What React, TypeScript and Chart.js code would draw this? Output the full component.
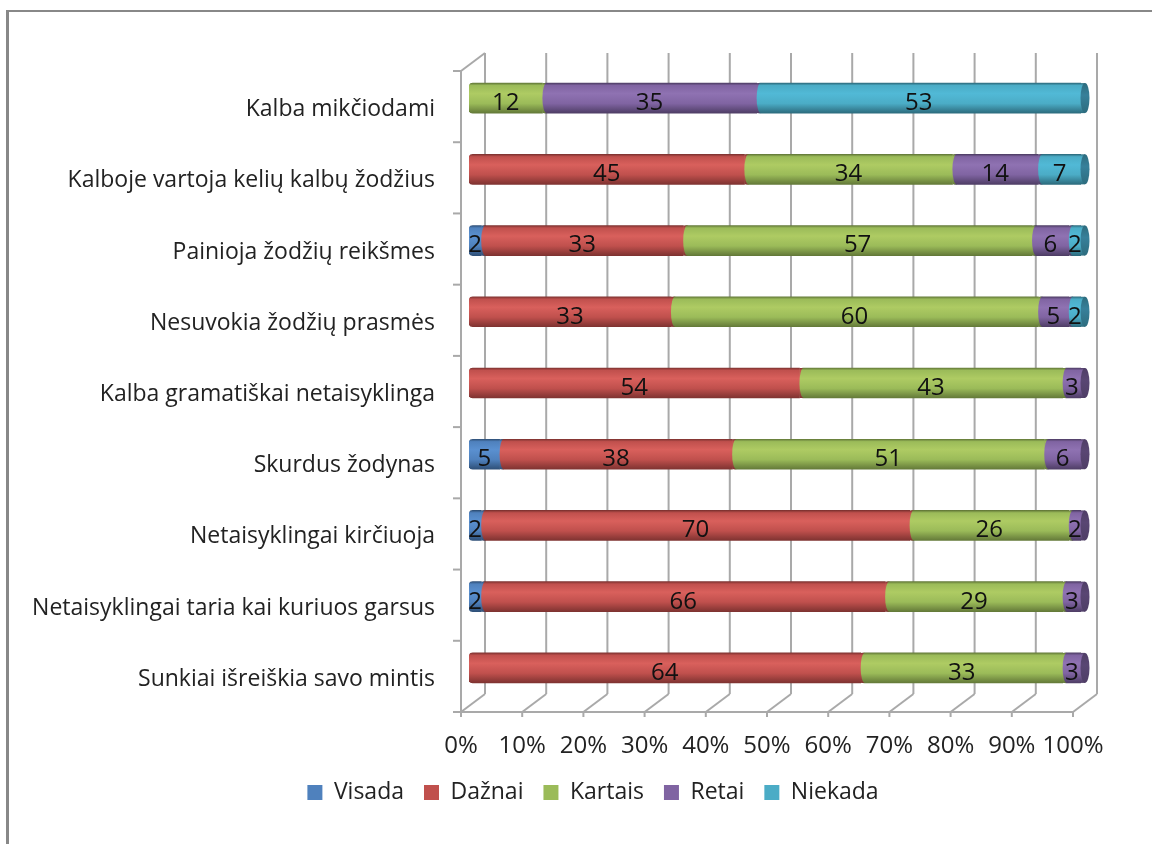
import React, { useEffect, useRef } from "react";
import { Chart, registerables } from "chart.js";

Chart.register(...registerables);

const categories = [
  "Kalba mikčiodami",
  "Kalboje vartoja kelių kalbų žodžius",
  "Painioja žodžių reikšmes",
  "Nesuvokia žodžių prasmės",
  "Kalba gramatiškai netaisyklinga",
  "Skurdus žodynas",
  "Netaisyklingai kirčiuoja",
  "Netaisyklingai taria kai kuriuos garsus",
  "Sunkiai išreiškia savo mintis",
];
const visada = [null, null, 2, null, null, 5, 2, 2, null];
const daznai = [null, 45, 33, 33, 54, 38, 70, 66, 64];
const kartais = [12, 34, 57, 60, 43, 51, 26, 29, 33];
const retai = [35, 14, 6, 5, 3, 6, 2, 3, 3];
const niekada = [53, 7, 2, 2, null, null, null, null, null];

const seriesNames = ["Visada", "Dažnai", "Kartais", "Retai", "Niekada"];
const seriesValues = [visada, daznai, kartais, retai, niekada];
const baseColors = ["#4f81bd", "#c0504d", "#9bbb59", "#8064a2", "#4bacc6"];
const lightColors = ["#5a90d0", "#d9605c", "#aecb63", "#8f72b2", "#51b9d6"];
const darkColors = ["#2f5078", "#7f3331", "#647a39", "#4f3e66", "#2d6c7e"];
const capColors = ["#3a5f8c", "#8f3c3a", "#73893f", "#594673", "#37809a"];

const FONT = "'Open Sans'";
const LABEL_SIZE = 23;
const VALUE_SIZE = 24;
const BAR_H = 30;
const SHIFT_X = 8;
const SHIFT_Y = -8.5;
const DEPTH_X = 24;
const DEPTH_Y = 18;
const END_R = 4;
const GRID = "#a9a9a9";

function bodyGradient(c2d: any, c: number, i: number) {
  const g = c2d.createLinearGradient(0, c - BAR_H / 2, 0, c + BAR_H / 2);
  g.addColorStop(0, darkColors[i]);
  g.addColorStop(0.08, baseColors[i]);
  g.addColorStop(0.35, lightColors[i]);
  g.addColorStop(0.68, baseColors[i]);
  g.addColorStop(1, darkColors[i]);
  return g;
}

function barFill(ctx: any, i: number) {
  if (ctx.dataIndex === undefined) return baseColors[i];
  const c = ctx.chart.scales.y?.getPixelForValue(ctx.dataIndex);
  if (!Number.isFinite(c)) return baseColors[i];
  return bodyGradient(ctx.chart.ctx, c, i);
}

const wallPlugin = {
  id: "wall",
  beforeDatasetsDraw(chart: any) {
    const { ctx, chartArea: a, scales } = chart;
    ctx.save();
    ctx.strokeStyle = GRID;
    ctx.lineWidth = 2;
    const line = (x1: number, y1: number, x2: number, y2: number) => {
      ctx.beginPath();
      ctx.moveTo(x1, y1);
      ctx.lineTo(x2, y2);
      ctx.stroke();
    };
    (scales.x.ticks as any[]).forEach((t) => {
      const x = scales.x.getPixelForValue(t.value);
      line(x + DEPTH_X, a.top - DEPTH_Y, x + DEPTH_X, a.bottom - DEPTH_Y);
      line(x + DEPTH_X, a.bottom - DEPTH_Y, x, a.bottom);
      line(x, a.bottom, x, a.bottom + 5);
    });
    line(a.left, a.bottom, a.right, a.bottom);
    line(a.left, a.top, a.left, a.bottom);
    line(a.left, a.top, a.left + DEPTH_X, a.top - DEPTH_Y);
    const step = (a.bottom - a.top) / categories.length;
    for (let i = 0; i <= categories.length; i++) {
      line(a.left - 8, a.top + i * step, a.left, a.top + i * step);
    }
    ctx.restore();
    ctx.save();
    ctx.translate(SHIFT_X, SHIFT_Y);
  },
  afterDatasetsDraw(chart: any) {
    const { ctx } = chart;
    categories.forEach((_, row) => {
      let prev = -1;
      seriesValues.forEach((s, i) => {
        if (s[row] == null) return;
        const el = chart.getDatasetMeta(i).data[row];
        const top = el.y - BAR_H / 2;
        if (prev >= 0) {
          ctx.fillStyle = bodyGradient(ctx, el.y, prev);
          ctx.fillRect(el.base, top, END_R, BAR_H);
          ctx.fillStyle = bodyGradient(ctx, el.y, i);
          ctx.beginPath();
          ctx.ellipse(el.base + END_R, el.y, END_R, BAR_H / 2, 0, 0, Math.PI * 2);
          ctx.fill();
        }
        prev = i;
      });
      if (prev >= 0) {
        const el = chart.getDatasetMeta(prev).data[row];
        const top = el.y - BAR_H / 2;
        ctx.fillStyle = bodyGradient(ctx, el.y, prev);
        ctx.fillRect(el.x - 0.5, top, END_R + 0.5, BAR_H);
        const g = ctx.createLinearGradient(0, top, 0, top + BAR_H);
        g.addColorStop(0, darkColors[prev]);
        g.addColorStop(0.4, capColors[prev]);
        g.addColorStop(1, darkColors[prev]);
        ctx.fillStyle = g;
        ctx.beginPath();
        ctx.ellipse(el.x + END_R, el.y, END_R + 0.5, BAR_H / 2, 0, 0, Math.PI * 2);
        ctx.fill();
      }
    });
    seriesValues.forEach((s, i) => {
      const meta = chart.getDatasetMeta(i);
      s.forEach((v, row) => {
        if (v == null) return;
        const el = meta.data[row];
        ctx.fillStyle = "#111111";
        ctx.font = `${VALUE_SIZE}px ${FONT}`;
        ctx.textAlign = "center";
        ctx.textBaseline = "middle";
        ctx.fillText(String(v), (el.x + el.base) / 2, el.y + 5);
      });
    });
    ctx.restore();
  },
  afterLayout(chart: any) {
    const l = chart.legend;
    const h = l.bottom - l.top;
    l.top = 761;
    l.bottom = l.top + h;
  },
};

export default function App() {
  const ref = useRef<HTMLCanvasElement>(null);
  useEffect(() => {
    document.body.style.margin = "0";
    const chart = new Chart(ref.current!, {
      type: "bar",
      data: {
        labels: categories,
        datasets: seriesNames.map((name, i) => ({
          label: name,
          data: seriesValues[i],
          backgroundColor: (ctx: any) => barFill(ctx, i),
          barThickness: BAR_H,
          borderWidth: 0,
          borderSkipped: false,
          borderRadius: { topLeft: END_R, bottomLeft: END_R, topRight: 0, bottomRight: 0 },
        })),
      },
      options: {
        indexAxis: "y",
        animation: false,
        responsive: false,
        layout: { padding: { top: 71, left: 34, right: 0, bottom: 0 } },
        scales: {
          x: {
            stacked: true,
            min: 0,
            max: 100,
            grid: { display: false },
            border: { display: false },
            ticks: {
              stepSize: 10,
              autoSkip: false,
              maxRotation: 0,
              padding: 12,
              color: "#222222",
              font: { family: FONT, size: VALUE_SIZE },
              callback: (v: any) => `${v}%`,
            },
            afterFit: (s: any) => {
              s.height = 79;
            },
          },
          y: {
            stacked: true,
            grid: { display: false },
            border: { display: false },
            ticks: {
              autoSkip: false,
              padding: 18,
              labelOffset: 3,
              color: "#222222",
              font: { family: FONT, size: LABEL_SIZE },
            },
            afterFit: (s: any) => {
              s.width = 427;
            },
          },
          spacer: {
            type: "linear",
            axis: "y",
            position: "right",
            display: true,
            grid: { display: false },
            border: { display: false },
            ticks: { display: false },
            afterFit: (s: any) => {
              s.width = 79;
            },
          },
        },
        plugins: {
          tooltip: { enabled: false },
          legend: {
            position: "bottom",
            labels: {
              boxWidth: 15,
              boxHeight: 15,
              padding: 20,
              color: "#222222",
              font: { family: FONT, size: LABEL_SIZE },
              generateLabels: (chart: any) =>
                Chart.defaults.plugins.legend.labels.generateLabels(chart).map((item: any, i: number) => ({
                  ...item,
                  fillStyle: baseColors[i],
                  strokeStyle: baseColors[i],
                  lineWidth: 0,
                })),
            },
          },
        },
      } as any,
      plugins: [wallPlugin],
    });
    return () => chart.destroy();
  }, []);
  return (
    <div style={{ position: "relative", width: 1152, height: 844, background: "#ffffff", overflow: "hidden" }}>
      <canvas ref={ref} width={1152} height={844} style={{ position: "absolute", left: 0, top: 0 }} />
      <div
        style={{
          position: "absolute",
          left: 6,
          top: 10,
          right: 0,
          bottom: 0,
          borderLeft: "3px solid #888888",
          borderTop: "2px solid #888888",
          pointerEvents: "none",
        }}
      />
    </div>
  );
}
